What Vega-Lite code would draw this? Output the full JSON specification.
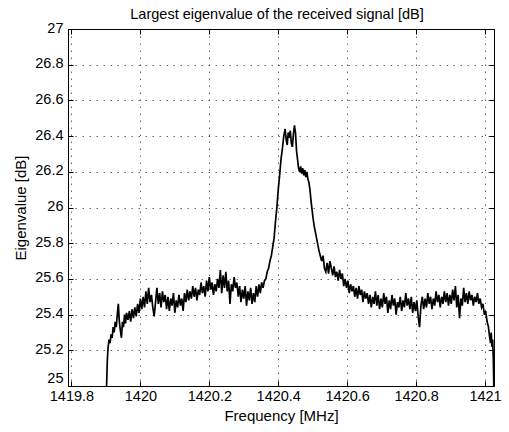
{
  "$schema": "https://vega.github.io/schema/vega-lite/v6.json",
  "width": 426,
  "height": 357,
  "autosize": {"type": "none"},
  "padding": {"left": 68, "top": 29, "right": 15, "bottom": 46},
  "background": "white",
  "title": {"text": "Largest eigenvalue of the received signal [dB]", "font": "Liberation Sans", "fontSize": 14.5, "fontWeight": "normal", "color": "#000", "offset": -2, "dx": -4},
  "config": {
    "view": {"stroke": "#000", "strokeWidth": 1},
    "axis": {"labelFont": "Liberation Sans", "titleFont": "Liberation Sans", "labelFontSize": 14.5, "titleFontSize": 15, "titleFontWeight": "normal", "labelColor": "#000", "titleColor": "#000", "domainColor": "#000", "tickColor": "#000", "tickSize": -5, "gridColor": "#333", "gridDash": [1.5, 5.5], "gridWidth": 1, "gridOpacity": 0.75}
  },
  "data": {"values": [
    {"f":1419.902,"e":25.00},{"f":1419.904,"e":25.14},{"f":1419.906,"e":25.21},{"f":1419.909,"e":25.26},{"f":1419.912,"e":25.24},{"f":1419.915,"e":25.29},{"f":1419.918,"e":25.27},{"f":1419.921,"e":25.33},{"f":1419.924,"e":25.30},{"f":1419.927,"e":25.36},{"f":1419.930,"e":25.33},{"f":1419.933,"e":25.40},{"f":1419.936,"e":25.46},{"f":1419.939,"e":25.36},{"f":1419.942,"e":25.31},{"f":1419.945,"e":25.27},{"f":1419.948,"e":25.36},{"f":1419.951,"e":25.33},{"f":1419.954,"e":25.40},{"f":1419.957,"e":25.35},{"f":1419.960,"e":25.41},{"f":1419.964,"e":25.37},{"f":1419.968,"e":25.42},{"f":1419.972,"e":25.36},{"f":1419.976,"e":25.43},{"f":1419.980,"e":25.38},{"f":1419.984,"e":25.44},{"f":1419.988,"e":25.39},{"f":1419.992,"e":25.46},{"f":1419.996,"e":25.41},
    {"f":1420.000,"e":25.49},{"f":1420.004,"e":25.43},{"f":1420.008,"e":25.50},{"f":1420.012,"e":25.44},{"f":1420.016,"e":25.53},{"f":1420.020,"e":25.46},{"f":1420.024,"e":25.55},{"f":1420.028,"e":25.47},{"f":1420.032,"e":25.51},{"f":1420.036,"e":25.44},{"f":1420.040,"e":25.39},{"f":1420.044,"e":25.47},{"f":1420.048,"e":25.55},{"f":1420.052,"e":25.46},{"f":1420.056,"e":25.52},{"f":1420.060,"e":25.44},{"f":1420.064,"e":25.53},{"f":1420.068,"e":25.47},{"f":1420.072,"e":25.51},{"f":1420.076,"e":25.43},{"f":1420.080,"e":25.50},{"f":1420.084,"e":25.42},{"f":1420.088,"e":25.49},{"f":1420.092,"e":25.45},{"f":1420.096,"e":25.52},{"f":1420.100,"e":25.41},{"f":1420.104,"e":25.48},{"f":1420.108,"e":25.44},{"f":1420.112,"e":25.51},{"f":1420.116,"e":25.45},{"f":1420.120,"e":25.49},{"f":1420.124,"e":25.42},{"f":1420.128,"e":25.52},{"f":1420.132,"e":25.47},{"f":1420.136,"e":25.54},{"f":1420.140,"e":25.48},{"f":1420.144,"e":25.53},{"f":1420.148,"e":25.49},{"f":1420.152,"e":25.56},{"f":1420.156,"e":25.50},{"f":1420.160,"e":25.55},{"f":1420.164,"e":25.48},{"f":1420.168,"e":25.54},{"f":1420.172,"e":25.51},{"f":1420.176,"e":25.58},{"f":1420.180,"e":25.52},{"f":1420.184,"e":25.56},{"f":1420.188,"e":25.50},{"f":1420.192,"e":25.59},{"f":1420.196,"e":25.53},
    {"f":1420.200,"e":25.61},{"f":1420.204,"e":25.54},{"f":1420.208,"e":25.58},{"f":1420.212,"e":25.51},{"f":1420.216,"e":25.57},{"f":1420.220,"e":25.53},{"f":1420.224,"e":25.60},{"f":1420.228,"e":25.55},{"f":1420.232,"e":25.65},{"f":1420.236,"e":25.52},{"f":1420.240,"e":25.62},{"f":1420.244,"e":25.55},{"f":1420.248,"e":25.64},{"f":1420.252,"e":25.53},{"f":1420.256,"e":25.59},{"f":1420.260,"e":25.46},{"f":1420.264,"e":25.57},{"f":1420.268,"e":25.53},{"f":1420.272,"e":25.61},{"f":1420.276,"e":25.55},{"f":1420.280,"e":25.58},{"f":1420.284,"e":25.50},{"f":1420.288,"e":25.56},{"f":1420.292,"e":25.47},{"f":1420.296,"e":25.54},{"f":1420.300,"e":25.49},{"f":1420.304,"e":25.56},{"f":1420.308,"e":25.45},{"f":1420.312,"e":25.53},{"f":1420.316,"e":25.48},{"f":1420.320,"e":25.55},{"f":1420.324,"e":25.46},{"f":1420.328,"e":25.52},{"f":1420.332,"e":25.47},{"f":1420.336,"e":25.56},{"f":1420.340,"e":25.50},{"f":1420.344,"e":25.57},{"f":1420.348,"e":25.52},{"f":1420.352,"e":25.58},{"f":1420.356,"e":25.55},{"f":1420.360,"e":25.59},{"f":1420.364,"e":25.60},{"f":1420.368,"e":25.64},{"f":1420.372,"e":25.66},{"f":1420.376,"e":25.70},{"f":1420.380,"e":25.73},{"f":1420.384,"e":25.78},{"f":1420.388,"e":25.83},{"f":1420.392,"e":25.92},{"f":1420.396,"e":26.00},
    {"f":1420.400,"e":26.10},{"f":1420.404,"e":26.18},{"f":1420.408,"e":26.27},{"f":1420.412,"e":26.33},{"f":1420.416,"e":26.40},{"f":1420.420,"e":26.44},{"f":1420.423,"e":26.38},{"f":1420.426,"e":26.35},{"f":1420.429,"e":26.42},{"f":1420.432,"e":26.39},{"f":1420.435,"e":26.43},{"f":1420.438,"e":26.36},{"f":1420.441,"e":26.34},{"f":1420.444,"e":26.41},{"f":1420.447,"e":26.46},{"f":1420.450,"e":26.42},{"f":1420.453,"e":26.32},{"f":1420.456,"e":26.27},{"f":1420.459,"e":26.22},{"f":1420.462,"e":26.20},{"f":1420.465,"e":26.23},{"f":1420.468,"e":26.19},{"f":1420.471,"e":26.22},{"f":1420.474,"e":26.18},{"f":1420.477,"e":26.21},{"f":1420.480,"e":26.17},{"f":1420.483,"e":26.20},{"f":1420.486,"e":26.16},{"f":1420.489,"e":26.14},{"f":1420.492,"e":26.10},{"f":1420.495,"e":26.04},{"f":1420.498,"e":25.99},{"f":1420.501,"e":25.94},{"f":1420.504,"e":25.90},{"f":1420.507,"e":25.87},{"f":1420.510,"e":25.84},{"f":1420.514,"e":25.80},{"f":1420.518,"e":25.76},{"f":1420.522,"e":25.73},{"f":1420.526,"e":25.70},{"f":1420.530,"e":25.73},{"f":1420.534,"e":25.66},{"f":1420.538,"e":25.64},{"f":1420.542,"e":25.69},{"f":1420.546,"e":25.63},{"f":1420.550,"e":25.70},{"f":1420.554,"e":25.66},{"f":1420.558,"e":25.62},{"f":1420.562,"e":25.67},{"f":1420.566,"e":25.61},{"f":1420.570,"e":25.64},{"f":1420.574,"e":25.59},{"f":1420.578,"e":25.65},{"f":1420.582,"e":25.60},{"f":1420.586,"e":25.63},{"f":1420.590,"e":25.56},{"f":1420.594,"e":25.60},{"f":1420.598,"e":25.55},
    {"f":1420.602,"e":25.59},{"f":1420.606,"e":25.52},{"f":1420.610,"e":25.57},{"f":1420.614,"e":25.53},{"f":1420.618,"e":25.56},{"f":1420.622,"e":25.50},{"f":1420.626,"e":25.55},{"f":1420.630,"e":25.49},{"f":1420.634,"e":25.56},{"f":1420.638,"e":25.51},{"f":1420.642,"e":25.54},{"f":1420.646,"e":25.47},{"f":1420.650,"e":25.53},{"f":1420.654,"e":25.49},{"f":1420.658,"e":25.52},{"f":1420.662,"e":25.46},{"f":1420.666,"e":25.51},{"f":1420.670,"e":25.44},{"f":1420.674,"e":25.50},{"f":1420.678,"e":25.46},{"f":1420.682,"e":25.53},{"f":1420.686,"e":25.45},{"f":1420.690,"e":25.51},{"f":1420.694,"e":25.43},{"f":1420.698,"e":25.49},{"f":1420.702,"e":25.44},{"f":1420.706,"e":25.52},{"f":1420.710,"e":25.46},{"f":1420.714,"e":25.50},{"f":1420.718,"e":25.41},{"f":1420.722,"e":25.48},{"f":1420.726,"e":25.43},{"f":1420.730,"e":25.51},{"f":1420.734,"e":25.45},{"f":1420.738,"e":25.49},{"f":1420.742,"e":25.40},{"f":1420.746,"e":25.47},{"f":1420.750,"e":25.44},{"f":1420.754,"e":25.50},{"f":1420.758,"e":25.42},{"f":1420.762,"e":25.48},{"f":1420.766,"e":25.44},{"f":1420.770,"e":25.52},{"f":1420.774,"e":25.45},{"f":1420.778,"e":25.49},{"f":1420.782,"e":25.43},{"f":1420.786,"e":25.50},{"f":1420.790,"e":25.41},{"f":1420.794,"e":25.47},{"f":1420.798,"e":25.42},
    {"f":1420.802,"e":25.48},{"f":1420.806,"e":25.39},{"f":1420.810,"e":25.33},{"f":1420.814,"e":25.45},{"f":1420.818,"e":25.50},{"f":1420.822,"e":25.43},{"f":1420.826,"e":25.49},{"f":1420.830,"e":25.44},{"f":1420.834,"e":25.52},{"f":1420.838,"e":25.46},{"f":1420.842,"e":25.50},{"f":1420.846,"e":25.43},{"f":1420.850,"e":25.49},{"f":1420.854,"e":25.45},{"f":1420.858,"e":25.53},{"f":1420.862,"e":25.47},{"f":1420.866,"e":25.51},{"f":1420.870,"e":25.44},{"f":1420.874,"e":25.50},{"f":1420.878,"e":25.46},{"f":1420.882,"e":25.53},{"f":1420.886,"e":25.47},{"f":1420.890,"e":25.52},{"f":1420.894,"e":25.45},{"f":1420.898,"e":25.51},{"f":1420.902,"e":25.46},{"f":1420.906,"e":25.54},{"f":1420.910,"e":25.48},{"f":1420.914,"e":25.56},{"f":1420.918,"e":25.44},{"f":1420.922,"e":25.51},{"f":1420.926,"e":25.38},{"f":1420.930,"e":25.49},{"f":1420.934,"e":25.45},{"f":1420.938,"e":25.55},{"f":1420.942,"e":25.47},{"f":1420.946,"e":25.52},{"f":1420.950,"e":25.46},{"f":1420.954,"e":25.53},{"f":1420.958,"e":25.48},{"f":1420.962,"e":25.51},{"f":1420.966,"e":25.45},{"f":1420.970,"e":25.50},{"f":1420.974,"e":25.47},{"f":1420.978,"e":25.52},{"f":1420.982,"e":25.46},{"f":1420.986,"e":25.49},{"f":1420.990,"e":25.44},{"f":1420.994,"e":25.46},{"f":1420.998,"e":25.40},
    {"f":1421.002,"e":25.42},{"f":1421.006,"e":25.36},{"f":1421.010,"e":25.33},{"f":1421.013,"e":25.28},{"f":1421.016,"e":25.24},{"f":1421.018,"e":25.30},{"f":1421.020,"e":25.22},{"f":1421.022,"e":25.26},{"f":1421.024,"e":25.15},{"f":1421.026,"e":24.95}
  ]},
  "layer": [
    {
      "mark": {"type": "line", "color": "#000", "strokeWidth": 1.7, "clip": true},
      "encoding": {
        "x": {"field": "f", "type": "quantitative", "scale": {"domain": [1419.79, 1421.026], "nice": false, "zero": false},
              "axis": {"orient": "bottom", "values": [1419.8, 1420, 1420.2, 1420.4, 1420.6, 1420.8, 1421], "format": "~f", "title": "Frequency [MHz]", "labelPadding": 8, "titlePadding": 6, "grid": true, "labelFlush": false}},
        "y": {"field": "e", "type": "quantitative", "scale": {"domain": [25, 27], "nice": false, "zero": false},
              "axis": {"orient": "left", "values": [25, 25.2, 25.4, 25.6, 25.8, 26, 26.2, 26.4, 26.6, 26.8, 27], "format": "~f", "title": "Eigenvalue [dB]", "labelPadding": 10, "titlePadding": 6, "grid": true, "labelFlush": false, "labelOffset": -1,
                        "labelBaseline": {"condition": {"test": "datum.value == 25", "value": "bottom"}, "value": "middle"}}}
      }
    },
    {
      "mark": {"type": "line", "strokeOpacity": 0},
      "encoding": {
        "x": {"field": "f", "type": "quantitative", "axis": {"orient": "top", "values": [1419.8, 1420, 1420.2, 1420.4, 1420.6, 1420.8, 1421], "labels": false, "title": null, "grid": false}},
        "y": {"field": "e", "type": "quantitative", "axis": {"orient": "right", "values": [25, 25.2, 25.4, 25.6, 25.8, 26, 26.2, 26.4, 26.6, 26.8, 27], "labels": false, "title": null, "grid": false}}
      }
    }
  ],
  "resolve": {"axis": {"x": "independent", "y": "independent"}}
}
